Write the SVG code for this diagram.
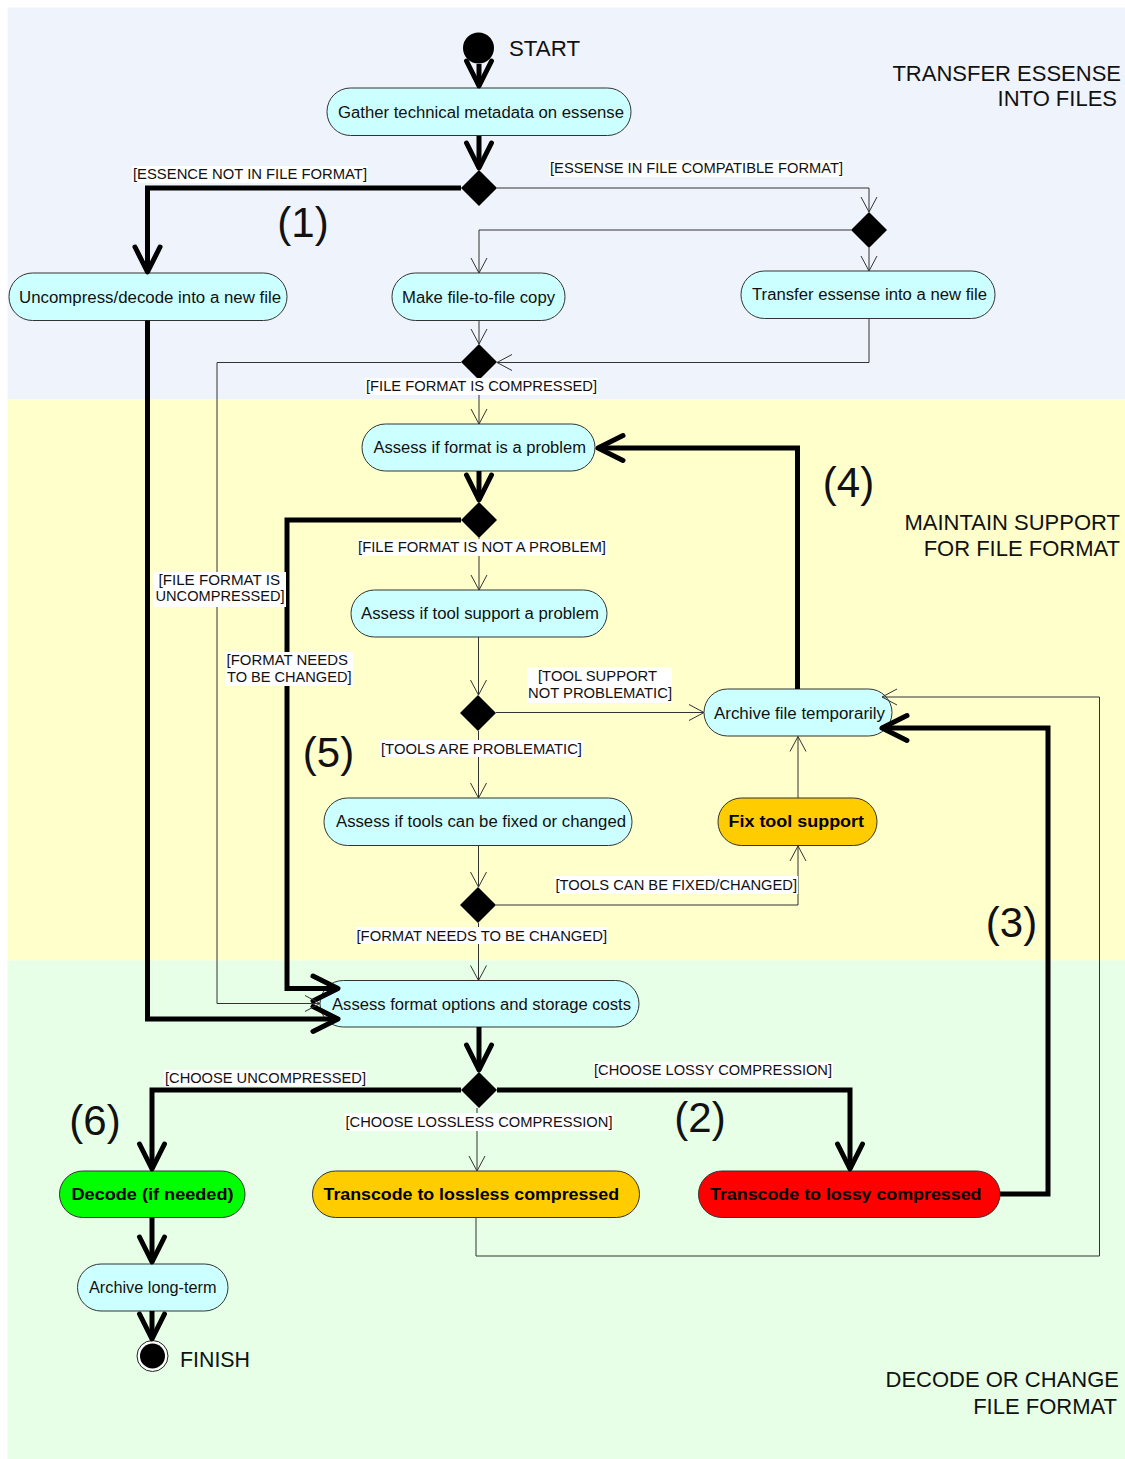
<svg xmlns="http://www.w3.org/2000/svg" width="1125" height="1459" viewBox="0 0 1125 1459">
  <style>
    .lane-title { font-family: "Liberation Sans", Arial, sans-serif; font-size: 22px; fill: #111; text-anchor: end; }
    .step { font-family: "Liberation Sans", Arial, sans-serif; font-size: 42px; fill: #111; text-anchor: middle; }
    .act { fill: #CCFFFF; stroke: #333; stroke-width: 1; }
    .act-amber { fill: #FFCC00; stroke: #333; stroke-width: 1; }
    .act-red { fill: #FF0000; stroke: #333; stroke-width: 1; }
    .act-green { fill: #00FF00; stroke: #333; stroke-width: 1; }
    .act-text { font-family: "Liberation Sans", Arial, sans-serif; font-size: 16px; fill: #111; }
    .act-bold { font-family: "Liberation Sans", Arial, sans-serif; font-size: 16px; font-weight: bold; fill: #000; }
    .decision { fill: #000; }
    .thick { fill: none; stroke: #000; stroke-width: 5; stroke-linejoin: miter; marker-end: url(#ah-thick); }
    .thin { fill: none; stroke: #333; stroke-width: 1; marker-end: url(#ah-thin); }
    .guard { font-family: "Liberation Sans", Arial, sans-serif; font-size: 14.5px; fill: #111; }
    .guard-bg { fill: #FFFFFF; }
    .term-text { font-family: "Liberation Sans", Arial, sans-serif; font-size: 21.5px; fill: #111; }
  </style>
  <defs>
    <marker id="ah-thin" markerUnits="userSpaceOnUse" viewBox="-18 -10 20 20" markerWidth="20" markerHeight="20" refX="0" refY="0" orient="auto" overflow="visible">
      <path d="M-15,-8 L0,0 L-15,8" fill="none" stroke="#333" stroke-width="1"/>
    </marker>
    <marker id="ah-thick" markerUnits="userSpaceOnUse" viewBox="-30 -18 34 36" markerWidth="34" markerHeight="36" refX="0" refY="0" orient="auto" overflow="visible">
      <path d="M-25,-12.5 L0,0 L-25,12.5" fill="none" stroke="#000" stroke-width="5" stroke-linecap="round" stroke-linejoin="round"/>
    </marker>
  </defs>

  <!-- page -->
  <rect x="0" y="0" width="1125" height="1459" fill="#FFFFFF"/>

  <!-- swimlanes -->
  <g id="lanes">
    <rect x="7.5" y="7.5" width="1117.5" height="392" fill="#EFF3FB"/>
    <rect x="7.5" y="399.5" width="1117.5" height="561" fill="#FFFFCC"/>
    <rect x="7.5" y="960.5" width="1117.5" height="498.5" fill="#E6FFE6"/>
  </g>

  <!-- start / finish -->
  <g id="start">
    <circle cx="478.5" cy="48" r="15.5" fill="#000"/>
    <text class="term-text" x="509" y="56" textLength="71" lengthAdjust="spacingAndGlyphs">START</text>
  </g>
  <g id="finish">
    <circle cx="152.5" cy="1356" r="15.5" fill="#FFFFFF" stroke="#222" stroke-width="1"/>
    <circle cx="152.5" cy="1356" r="12.5" fill="#000"/>
    <text class="term-text" x="180" y="1367" textLength="70" lengthAdjust="spacingAndGlyphs">FINISH</text>
  </g>

  <!-- activities -->
  <g id="gather-metadata">
    <rect class="act" x="327" y="88" width="304" height="47.5" rx="23.5"/>
    <text class="act-text" x="338" y="117.5" textLength="286" lengthAdjust="spacingAndGlyphs">Gather technical metadata on essense</text>
  </g>
  <g id="uncompress-decode">
    <rect class="act" x="9" y="273" width="278" height="47.5" rx="23.5"/>
    <text class="act-text" x="19" y="302.5" textLength="262" lengthAdjust="spacingAndGlyphs">Uncompress/decode into a new file</text>
  </g>
  <g id="file-copy">
    <rect class="act" x="392" y="273" width="173" height="47.5" rx="23.5"/>
    <text class="act-text" x="402" y="302.5" textLength="153" lengthAdjust="spacingAndGlyphs">Make file-to-file copy</text>
  </g>
  <g id="transfer-essense">
    <rect class="act" x="741" y="271" width="254" height="47.5" rx="23.5"/>
    <text class="act-text" x="752" y="300" textLength="235" lengthAdjust="spacingAndGlyphs">Transfer essense into a new file</text>
  </g>
  <g id="assess-format">
    <rect class="act" x="362" y="424" width="233" height="47" rx="23.5"/>
    <text class="act-text" x="373.5" y="453" textLength="212.5" lengthAdjust="spacingAndGlyphs">Assess if format is a problem</text>
  </g>
  <g id="assess-tool-support">
    <rect class="act" x="351" y="590" width="256" height="47" rx="23.5"/>
    <text class="act-text" x="361" y="618.5" textLength="238" lengthAdjust="spacingAndGlyphs">Assess if tool support a problem</text>
  </g>
  <g id="archive-temporarily">
    <rect class="act" x="704" y="689" width="188" height="47" rx="23.5"/>
    <text class="act-text" x="714" y="718.5" textLength="171" lengthAdjust="spacingAndGlyphs">Archive file temporarily</text>
  </g>
  <g id="assess-tools-fixable">
    <rect class="act" x="324" y="798" width="308" height="47.5" rx="23.5"/>
    <text class="act-text" x="336" y="827" textLength="290" lengthAdjust="spacingAndGlyphs">Assess if tools can be fixed or changed</text>
  </g>
  <g id="fix-tool-support">
    <rect class="act-amber" x="718" y="798" width="159" height="47.5" rx="23.5"/>
    <text class="act-bold" x="728.5" y="827" textLength="135.5" lengthAdjust="spacingAndGlyphs">Fix tool support</text>
  </g>
  <g id="assess-format-options">
    <rect class="act" x="320" y="980.5" width="319" height="46.5" rx="23.25"/>
    <text class="act-text" x="332" y="1009.5" textLength="299" lengthAdjust="spacingAndGlyphs">Assess format options and storage costs</text>
  </g>
  <g id="decode">
    <rect class="act-green" x="59.5" y="1171" width="185.5" height="46.5" rx="23.25"/>
    <text class="act-bold" x="71.5" y="1200" textLength="162" lengthAdjust="spacingAndGlyphs">Decode (if needed)</text>
  </g>
  <g id="transcode-lossless">
    <rect class="act-amber" x="312.5" y="1171" width="327" height="46.5" rx="23.25"/>
    <text class="act-bold" x="323.5" y="1200" textLength="295.5" lengthAdjust="spacingAndGlyphs">Transcode to lossless compressed</text>
  </g>
  <g id="transcode-lossy">
    <rect class="act-red" x="698.5" y="1171" width="301.5" height="46.5" rx="23.25"/>
    <text class="act-bold" x="710" y="1200" textLength="271.5" lengthAdjust="spacingAndGlyphs">Transcode to lossy compressed</text>
  </g>
  <g id="archive-long-term">
    <rect class="act" x="77.5" y="1264" width="150.5" height="47" rx="23.5"/>
    <text class="act-text" x="89" y="1293" textLength="127.5" lengthAdjust="spacingAndGlyphs">Archive long-term</text>
  </g>

  <!-- decisions -->
  <g id="decision-essence">
    <polygon class="decision" points="479,170 497,188 479,206 461,188"/>
  </g>
  <g id="decision-transfer">
    <polygon class="decision" points="869,212 887,230 869,248 851,230"/>
  </g>
  <g id="decision-compressed">
    <polygon class="decision" points="479,344 497,362 479,380 461,362"/>
  </g>
  <g id="decision-format-problem">
    <polygon class="decision" points="479,502 497,520 479,538 461,520"/>
  </g>
  <g id="decision-tools">
    <polygon class="decision" points="478,695 496,713 478,731 460,713"/>
  </g>
  <g id="decision-fixable">
    <polygon class="decision" points="478,887 496,905 478,923 460,905"/>
  </g>
  <g id="decision-target-format">
    <polygon class="decision" points="479,1072 497,1090 479,1108 461,1090"/>
  </g>

  <!-- control flows -->
  <g id="connectors">
    <!-- main (thick) path -->
    <path class="thick" d="M479,64 L479,86"/>
    <path class="thick" d="M479,136 L479,168"/>
    <path class="thick" d="M461,188 L147.5,188 L147.5,272"/>
    <path class="thick" d="M147.5,320.5 L147.5,1019 L338,1019"/>
    <path class="thick" d="M461,520 L287,520 L287,988.5 L338,988.5"/>
    <path class="thick" d="M479,471 L479,500"/>
    <path class="thick" d="M797.5,689 L797.5,448 L598,448"/>
    <path class="thick" d="M479,1027 L479,1070"/>
    <path class="thick" d="M461,1090 L152,1090 L152,1169"/>
    <path class="thick" d="M497,1090 L850,1090 L850,1169"/>
    <path class="thick" d="M1000,1194 L1048,1194 L1048,728 L882,728"/>
    <path class="thick" d="M152,1217.5 L152,1262"/>
    <path class="thick" d="M152,1311 L152,1339"/>

    <!-- secondary (thin) paths -->
    <path class="thin" d="M497,188 L869,188 L869,212"/>
    <path class="thin" d="M851,230 L479,230 L479,273"/>
    <path class="thin" d="M869,248 L869,271"/>
    <path class="thin" d="M479,320.5 L479,344"/>
    <path class="thin" d="M869,318.5 L869,362.5 L497,362.5"/>
    <path class="thin" d="M461,362.5 L217,362.5 L217,1003.5 L320,1003.5"/>
    <path class="thin" d="M479,380 L479,424"/>
    <path class="thin" d="M479,538 L479,590"/>
    <path class="thin" d="M478.5,637 L478.5,695"/>
    <path class="thin" d="M496,712.5 L704,712.5"/>
    <path class="thin" d="M478.5,731 L478.5,798"/>
    <path class="thin" d="M478.5,845.5 L478.5,887"/>
    <path class="thin" d="M496,905 L798,905 L798,846"/>
    <path class="thin" d="M798,798 L798,736.5"/>
    <path class="thin" d="M478.5,923 L478.5,980.5"/>
    <path class="thin" d="M477,1108 L477,1171"/>
    <path class="thin" d="M476,1217.5 L476,1256 L1099.5,1256 L1099.5,697 L882,697"/>
  </g>

  <!-- guard conditions -->
  <g id="guards">
    <rect class="guard-bg" x="132" y="166" width="236" height="17"/>
    <text class="guard" x="133" y="179" textLength="234" lengthAdjust="spacingAndGlyphs">[ESSENCE NOT IN FILE FORMAT]</text>

    <rect class="guard-bg" x="549" y="160" width="295" height="17"/>
    <text class="guard" x="550" y="173" textLength="293" lengthAdjust="spacingAndGlyphs">[ESSENSE IN FILE COMPATIBLE FORMAT]</text>

    <rect class="guard-bg" x="365" y="378" width="233" height="17"/>
    <text class="guard" x="366" y="391" textLength="231" lengthAdjust="spacingAndGlyphs">[FILE FORMAT IS COMPRESSED]</text>

    <rect class="guard-bg" x="357" y="539" width="250" height="17"/>
    <text class="guard" x="358" y="552" textLength="248" lengthAdjust="spacingAndGlyphs">[FILE FORMAT IS NOT A PROBLEM]</text>

    <rect class="guard-bg" x="154" y="572" width="132" height="35"/>
    <text class="guard" x="158.5" y="585" textLength="121.5" lengthAdjust="spacingAndGlyphs">[FILE FORMAT IS</text>
    <text class="guard" x="155.5" y="601" textLength="129" lengthAdjust="spacingAndGlyphs">UNCOMPRESSED]</text>

    <rect class="guard-bg" x="225" y="652" width="128" height="34"/>
    <text class="guard" x="226.5" y="665" textLength="121.5" lengthAdjust="spacingAndGlyphs">[FORMAT NEEDS</text>
    <text class="guard" x="227" y="682" textLength="124.5" lengthAdjust="spacingAndGlyphs">TO BE CHANGED]</text>

    <rect class="guard-bg" x="527" y="667" width="145" height="36"/>
    <text class="guard" x="538" y="681" textLength="119" lengthAdjust="spacingAndGlyphs">[TOOL SUPPORT</text>
    <text class="guard" x="528" y="698" textLength="144" lengthAdjust="spacingAndGlyphs">NOT PROBLEMATIC]</text>

    <rect class="guard-bg" x="380" y="740" width="203" height="17"/>
    <text class="guard" x="381" y="754" textLength="201" lengthAdjust="spacingAndGlyphs">[TOOLS ARE PROBLEMATIC]</text>

    <rect class="guard-bg" x="554.5" y="876" width="243.5" height="18"/>
    <text class="guard" x="555.5" y="890" textLength="241.5" lengthAdjust="spacingAndGlyphs">[TOOLS CAN BE FIXED/CHANGED]</text>

    <rect class="guard-bg" x="355.5" y="927" width="252.5" height="17"/>
    <text class="guard" x="356.5" y="941" textLength="250.5" lengthAdjust="spacingAndGlyphs">[FORMAT NEEDS TO BE CHANGED]</text>

    <rect class="guard-bg" x="164" y="1070" width="203" height="16"/>
    <text class="guard" x="165" y="1083" textLength="201" lengthAdjust="spacingAndGlyphs">[CHOOSE UNCOMPRESSED]</text>

    <rect class="guard-bg" x="344.5" y="1113" width="269" height="18"/>
    <text class="guard" x="345.5" y="1127" textLength="267" lengthAdjust="spacingAndGlyphs">[CHOOSE LOSSLESS COMPRESSION]</text>

    <rect class="guard-bg" x="593" y="1062" width="240" height="17"/>
    <text class="guard" x="594" y="1075" textLength="238" lengthAdjust="spacingAndGlyphs">[CHOOSE LOSSY COMPRESSION]</text>
  </g>

  <!-- lane titles -->
  <g id="lane-titles">
    <text class="lane-title" x="1121" y="81">TRANSFER ESSENSE</text>
    <text class="lane-title" x="1117" y="106">INTO FILES</text>
    <text class="lane-title" x="1120" y="530">MAINTAIN SUPPORT</text>
    <text class="lane-title" x="1120" y="556">FOR FILE FORMAT</text>
    <text class="lane-title" x="1119" y="1387">DECODE OR CHANGE</text>
    <text class="lane-title" x="1117" y="1414">FILE FORMAT</text>
  </g>

  <!-- step numbers -->
  <g id="steps">
    <text class="step" x="303" y="237">(1)</text>
    <text class="step" x="700" y="1132">(2)</text>
    <text class="step" x="1011.5" y="937">(3)</text>
    <text class="step" x="848.5" y="497">(4)</text>
    <text class="step" x="328.5" y="767">(5)</text>
    <text class="step" x="95" y="1135">(6)</text>
  </g>
</svg>
